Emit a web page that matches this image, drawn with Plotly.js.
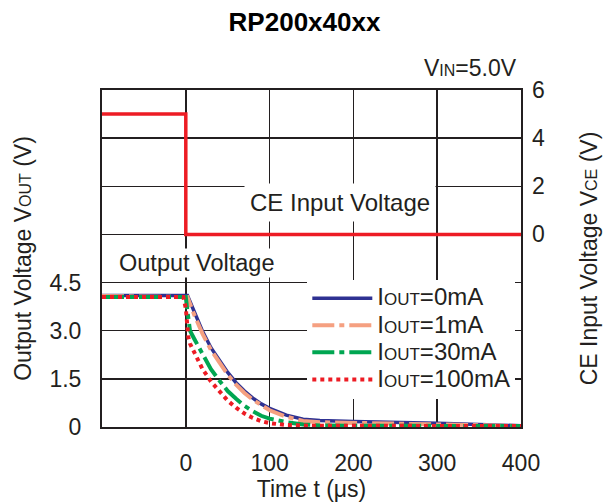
<!DOCTYPE html>
<html>
<head>
<meta charset="utf-8">
<script src="https://cdn.plot.ly/plotly-3.0.1.min.js"></script>
<style>html,body{margin:0;padding:0;background:#fff;}#chart{width:609px;height:502px;}</style>
</head>
<body>
<div id="chart"></div>
<script>
// ---- data ----
const seriesNames = ['0mA', '1mA', '30mA', '100mA'];

const t0mA = [-100, 0, 2, 10, 20, 30, 40, 50, 60, 70, 80, 90, 100, 120, 140, 160, 200, 250, 300, 350, 400];
const v0mA = [4.1, 4.1, 4.1, 3.6, 2.98, 2.47, 2.07, 1.7, 1.38, 1.12, 0.9, 0.72, 0.58, 0.37, 0.24, 0.2, 0.17, 0.15, 0.12, 0.08, 0.04];

const t1mA = [-100, 0, 2, 10, 20, 30, 40, 50, 60, 70, 80, 90, 100, 120, 140, 160, 200, 300, 400];
const v1mA = [4.08, 4.08, 4.05, 3.5, 2.9, 2.4, 2.0, 1.63, 1.32, 1.06, 0.85, 0.67, 0.52, 0.32, 0.19, 0.15, 0.13, 0.08, 0.03];

const t30mA = [-100, 0, 2, 5, 10, 20, 30, 40, 50, 60, 70, 80, 90, 100, 120, 140, 160, 200, 400];
const v30mA = [4.05, 4.05, 3.6, 3.0, 2.75, 2.25, 1.8, 1.45, 1.12, 0.88, 0.66, 0.49, 0.35, 0.26, 0.15, 0.08, 0.05, 0.04, 0.03];

const t100mA = [-100, -3, 0, 3, 5, 10, 20, 30, 40, 50, 60, 70, 80, 90, 100, 120, 150, 400];
const v100mA = [4.05, 4.05, 3.7, 2.8, 2.6, 2.35, 1.8, 1.42, 1.1, 0.82, 0.6, 0.42, 0.28, 0.18, 0.12, 0.06, 0.04, 0.03];

const ceTime = [-100, 0, 0, 400];
const ceVolt = [5, 5, 0, 0];

const xTickVals = [-100, 0, 100, 200, 300, 400];
const xTickText = ['', '0', '100', '200', '300', '400'];
const yTickVals = [0, 1.5, 3, 4.5, 6, 7.5, 9, 10.5];
const yTickText = ['0', '1.5', '3.0', '4.5', '', '', '', ''];
const y2TickVals = [0, 2, 4, 6];
const y2TickText = ['0', '2', '4', '6'];

// ---- styling ----
const FONT = 'Liberation Sans, Arial, Helvetica, sans-serif';
const TXT = '#231f20';
const GRID = '#231f20';
const sub = s => `<span style="font-size:16px">${s}</span>`;
const legText = s => `<span style="font-size:24px">I</span><span style="font-size:17px">OUT</span><span style="font-size:24px">=${s}</span>`;

const traces = [
  {x: t0mA, y: v0mA, name: legText(seriesNames[0]), mode: 'lines',
   line: {color: '#2e3192', width: 3.5}},
  {x: t1mA, y: v1mA, name: legText(seriesNames[1]), mode: 'lines',
   line: {color: '#f5a081', width: 4, dash: '22px,5px,5px,5px'}},
  {x: t30mA, y: v30mA, name: legText(seriesNames[2]), mode: 'lines',
   line: {color: '#00a651', width: 4, dash: '22px,5px,5px,5px'}},
  {x: t100mA, y: v100mA, name: legText(seriesNames[3]), mode: 'lines',
   line: {color: '#ed1c24', width: 4, dash: '4px,4px'}},
  {x: ceTime, y: ceVolt, yaxis: 'y2', mode: 'lines', showlegend: false,
   line: {color: '#ed1c24', width: 3.5}}
];

const layout = {
  width: 609, height: 502,
  margin: {l: 102, r: 88, t: 90, b: 75},
  paper_bgcolor: '#fff', plot_bgcolor: '#fff',
  font: {family: FONT, color: TXT, size: 23},
  title: {text: 'RP200x40xx', font: {family: FONT, size: 26, weight: 'bold', color: '#000'},
          x: 0.5, xanchor: 'center', y: 1 - 22 / 502, yanchor: 'middle', yref: 'container'},
  showlegend: true,
  legend: {x: 0.49, y: 0.437, xanchor: 'left', yanchor: 'top', bgcolor: '#fff',
           borderwidth: 0, font: {family: FONT, size: 18.5, color: TXT}, itemwidth: 60,
           traceorder: 'normal'},
  xaxis: {range: [-100, 400], tickvals: xTickVals, ticktext: xTickText,
          showgrid: true, gridcolor: GRID, gridwidth: 1.5, zeroline: false,
          showline: true, mirror: true, linecolor: GRID, linewidth: 2,
          ticks: '', ticklabelstandoff: 14, tickfont: {size: 23},
          title: {text: 'Time t (μs)', font: {size: 23}, standoff: 6}},
  yaxis: {range: [0, 10.5], tickvals: yTickVals, ticktext: yTickText,
          showgrid: true, gridcolor: GRID, gridwidth: 1.5, zeroline: false,
          showline: true, mirror: true, linecolor: GRID, linewidth: 2,
          ticks: '', ticklabelstandoff: 14, tickfont: {size: 23},
          title: {text: 'Output Voltage V' + sub('OUT') + ' (V)', font: {size: 23}, standoff: 11}},
  yaxis2: {range: [-8, 6], overlaying: 'y', side: 'right', tickvals: y2TickVals, ticktext: y2TickText,
           showgrid: false, zeroline: false, showline: false,
           ticks: '', ticklabelstandoff: 10, tickfont: {size: 23},
           title: {text: 'CE Input Voltage V' + sub('CE') + ' (V)', font: {size: 23}, standoff: 36}},
  annotations: [
    {text: 'CE Input Voltage', xref: 'x', yref: 'y2', x: 184, y: 1.33,
     xanchor: 'center', yanchor: 'middle', showarrow: false, bgcolor: '#fff', borderpad: 5,
     font: {size: 24, color: TXT}},
    {text: 'Output Voltage', xref: 'x', yref: 'y', x: 13, y: 5.12,
     xanchor: 'center', yanchor: 'middle', showarrow: false, bgcolor: '#fff', borderpad: 1,
     font: {size: 23.5, color: TXT}},
    {text: 'V' + sub('IN') + '=5.0V', xref: 'paper', yref: 'paper', x: 1, y: (427 - 68) / 337,
     xanchor: 'right', yanchor: 'middle', xshift: -2, showarrow: false,
     font: {size: 23, color: TXT}}
  ]
};

Plotly.newPlot('chart', traces, layout, {staticPlot: true, displayModeBar: false});
</script>
</body>
</html>
